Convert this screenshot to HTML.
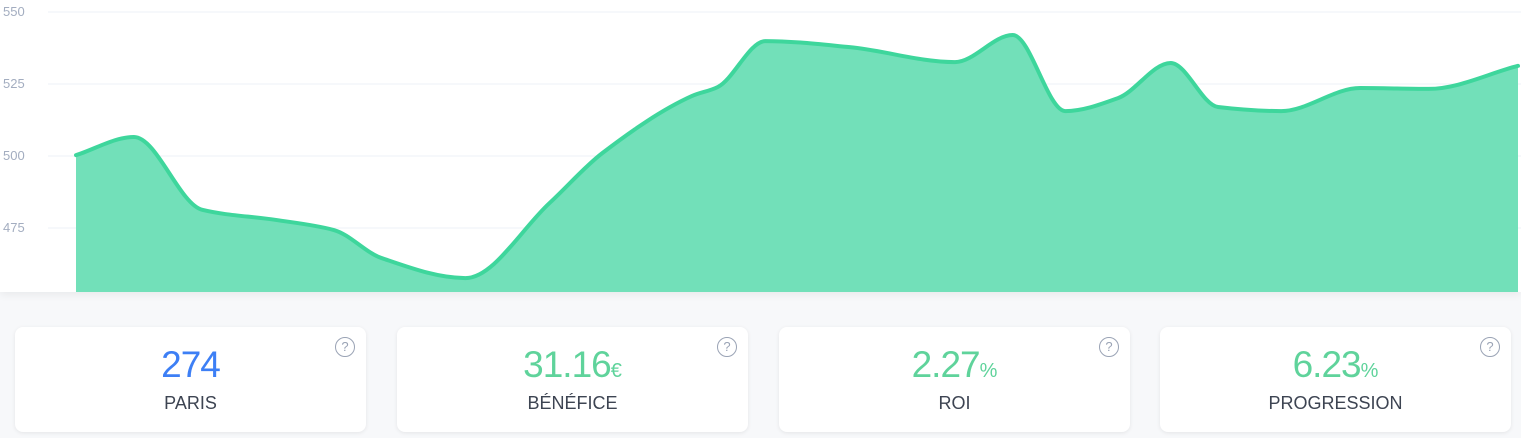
<!DOCTYPE html>
<html><head><meta charset="utf-8"><style>
body{margin:0;width:1521px;height:438px;background:#f7f8fa;font-family:"Liberation Sans",sans-serif;overflow:hidden;position:relative}
#chart{position:absolute;left:0;top:0;width:1521px;height:292px;background:#fff;box-shadow:0 3px 8px rgba(0,0,0,0.06)}
.card{position:absolute;top:327px;width:351px;height:105px;background:#fff;border-radius:8px;box-shadow:0 1px 4px rgba(0,0,0,0.08);text-align:center}
.num{position:absolute;top:17px;left:0;right:0;font-size:37px;letter-spacing:-1px;color:#5fd39b}
.num small{font-size:20px;letter-spacing:0}
.lbl{position:absolute;top:66px;left:0;right:0;font-size:18px;color:#3d4452}
.help{position:absolute;right:11px;top:10px;width:18px;height:18px;border:1.5px solid #9aa3b5;border-radius:50%;color:#9aa3b5;font-size:13px;line-height:18px;text-align:center}
</style></head><body>
<div id="chart">
<svg id="svg" width="1521" height="292"></svg>
</div>
<div class="card" style="left:15px"><div class="num" style="color:#3d7ff5">274</div><div class="lbl">PARIS</div><div class="help">?</div></div>
<div class="card" style="left:397px"><div class="num">31.16<small>€</small></div><div class="lbl">BÉNÉFICE</div><div class="help">?</div></div>
<div class="card" style="left:779px"><div class="num">2.27<small>%</small></div><div class="lbl">ROI</div><div class="help">?</div></div>
<div class="card" style="left:1160px"><div class="num">6.23<small>%</small></div><div class="lbl">PROGRESSION</div><div class="help">?</div></div>
<script>
const betIndex=[0,11,24,38,49,58,74,90,100,117,122,131,147,167,178,188,198,208,217,229,244,257,274];
const values=[500.3,506.6,481.3,477.8,474.3,464.6,457.6,483.7,501.0,520.8,524.0,539.9,537.8,532.6,542.0,515.6,520.1,532.3,517.0,515.6,523.6,523.3,531.3];
const yTicks=[550,525,500,475];
const NS="http://www.w3.org/2000/svg";
const svg=document.getElementById('svg');
const x0=76,x1=1518,xMax=274;
const xs=b=>x0+(x1-x0)*b/xMax;
const ys=v=>12+(550-v)*72/25;
yTicks.forEach(t=>{
  const l=document.createElementNS(NS,'line');
  
  
  l.setAttribute('x1',48);l.setAttribute('x2',1521);l.setAttribute('y1',ys(t));l.setAttribute('y2',ys(t));
  l.setAttribute('stroke','#eef2f7');l.setAttribute('stroke-width','1');svg.appendChild(l);
  const tx=document.createElementNS(NS,'text');
  
  
  tx.setAttribute('x',3);tx.setAttribute('y',ys(t)+4);tx.setAttribute('fill','#a3adc0');tx.setAttribute('font-size','13');
  tx.setAttribute('font-family','Liberation Sans, sans-serif');tx.textContent=t;svg.appendChild(tx);
});
const n=values.length,P=values.map((v,i)=>[xs(betIndex[i]),ys(v)]);
const d=[],m=[];
for(let i=0;i<n-1;i++)d.push((P[i+1][1]-P[i][1])/(P[i+1][0]-P[i][0]));
for(let i=0;i<n;i++){
  if(i==0)m.push(d[0]);else if(i==n-1)m.push(d[n-2]);
  else m.push(d[i-1]*d[i]<=0?0:2/(1/d[i-1]+1/d[i]));
}
let path=`M${P[0][0]},${P[0][1]}`;
for(let i=0;i<n-1;i++){
  const h=(P[i+1][0]-P[i][0])/3;
  path+=` C${P[i][0]+h},${P[i][1]+m[i]*h} ${P[i+1][0]-h},${P[i+1][1]-m[i+1]*h} ${P[i+1][0]},${P[i+1][1]}`;
}
const area=document.createElementNS(NS,'path');


area.setAttribute('d',path+` L${x1},292 L${x0},292 Z`);area.setAttribute('fill','#72e0b9');svg.appendChild(area);
const line=document.createElementNS(NS,'path');


line.setAttribute('d',path);line.setAttribute('fill','none');line.setAttribute('stroke','#3ed69c');line.setAttribute('stroke-width','4');line.setAttribute('stroke-linecap','round');svg.appendChild(line);
</script>
</body></html>
